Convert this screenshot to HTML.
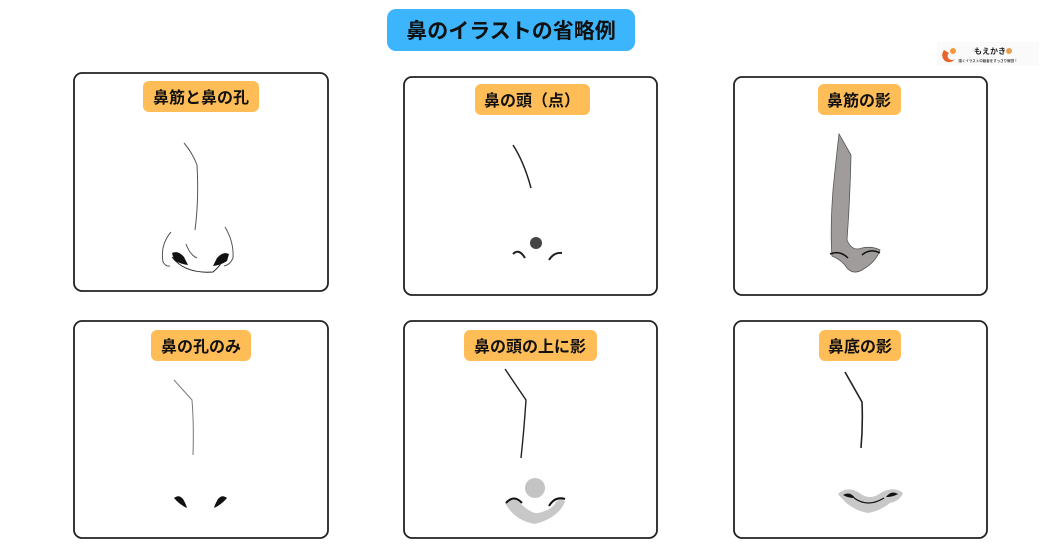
<!DOCTYPE html>
<html><head><meta charset="utf-8">
<style>
html,body{margin:0;padding:0;background:#fff;width:1042px;height:545px;overflow:hidden}
text{font-family:"Liberation Sans","Noto Sans CJK JP",sans-serif;font-weight:bold}
</style></head>
<body>
<svg width="1042" height="545" viewBox="0 0 1042 545" xmlns="http://www.w3.org/2000/svg">
<rect x="387" y="9" width="248" height="42" rx="9" fill="#3cb5fd"/>
<text x="511" y="38" font-size="21" text-anchor="middle" fill="#111">鼻のイラストの省略例</text>
<rect x="937" y="42" width="102" height="24" fill="#fafafa"/>
<path d="M944 50 q-4 6 1 11 q6 3 10 -2 q-3 2 -6 0 q-3 -3 0 -6 z" fill="#e8622a"/>
<circle cx="953" cy="51" r="3" fill="#f29a3a"/>
<text x="990" y="54" font-size="8" text-anchor="middle" fill="#222">もえかき</text>
<circle cx="1009" cy="51" r="3" fill="#e8a050"/>
<text x="988" y="62" font-size="3.5" text-anchor="middle" fill="#444">描くイラスト中級者をすっきり解説！</text>

<g fill="#fff" stroke="#222" stroke-width="1.8">
<rect x="74" y="73" width="254" height="218" rx="8"/>
<rect x="404" y="77" width="253" height="218" rx="8"/>
<rect x="734" y="77" width="253" height="218" rx="8"/>
<rect x="74" y="321" width="254" height="217" rx="8"/>
<rect x="404" y="321" width="253" height="217" rx="8"/>
<rect x="734" y="321" width="253" height="217" rx="8"/>
</g>
<g fill="#ffbd57">
<rect x="143" y="81" width="116" height="31" rx="6"/>
<rect x="475" y="84" width="115" height="31" rx="6"/>
<rect x="818" y="84" width="83" height="31" rx="6"/>
<rect x="151" y="330" width="100" height="31" rx="6"/>
<rect x="464" y="330" width="133" height="31" rx="6"/>
<rect x="819" y="330" width="82" height="31" rx="6"/>
</g>
<g font-size="16" fill="#111" text-anchor="middle">
<text x="201" y="103">鼻筋と鼻の孔</text>
<text x="532" y="106">鼻の頭（点）</text>
<text x="859" y="106">鼻筋の影</text>
<text x="201" y="352">鼻の孔のみ</text>
<text x="530" y="352">鼻の頭の上に影</text>
<text x="860" y="352">鼻底の影</text>
</g>

<!-- panel1 -->
<g fill="none" stroke="#555" stroke-width="1">
<path d="M184 143 Q192 152 197 165 Q199 200 195 230"/>
<path d="M171 232 Q160 245 163 262 Q166 267 170 266"/>
<path d="M225 227 Q234 242 233 258 Q230 265 224 266"/>
<path d="M186 244 Q190 255 197 258"/>
<path d="M172 257 Q185 274 213 272 Q218 268 222 262" stroke="#222"/>
</g>
<path d="M172 253 q6 -3 12 4 q3 6 4 8 q-8 -1 -14 -5 z" fill="#111"/>
<path d="M229 254 q-6 -3 -12 4 q-3 6 -4 8 q8 -1 14 -5 z" fill="#111"/>

<!-- panel2 -->
<path d="M513 145 Q524 162 531 188" fill="none" stroke="#222" stroke-width="1.5"/>
<circle cx="536" cy="243" r="6" fill="#444"/>
<path d="M513 254 q6 -6 12 4" fill="none" stroke="#222" stroke-width="2"/>
<path d="M549 260 q5 -8 13 -7" fill="none" stroke="#222" stroke-width="2"/>

<!-- panel3 -->
<path d="M839 134 L851 155 Q850 200 847 240 Q852 252 862 248 Q872 246 880 250 Q876 262 862 270 Q853 275 847 268 Q842 260 832 256 Q830 230 833 190 Q836 160 839 134 z" fill="#a09c9c" stroke="#555" stroke-width="0.8"/>
<path d="M830 254 Q840 250 848 258 M862 255 Q870 248 880 253" fill="none" stroke="#111" stroke-width="1.5"/>

<!-- panel4 -->
<path d="M174 380 Q183 390 192 400 Q194 425 193 455" fill="none" stroke="#777" stroke-width="1"/>
<path d="M174 498 q5 -4 9 1 q3 5 4 9 q-7 -3 -13 -10 z" fill="#111"/>
<path d="M227 498 q-5 -4 -9 1 q-3 5 -4 9 q7 -3 13 -10 z" fill="#111"/>

<!-- panel5 -->
<path d="M505 369 L526 400 Q524 430 521 458" fill="none" stroke="#222" stroke-width="1.4"/>
<circle cx="535" cy="488" r="10" fill="#c4c4c4"/>
<path d="M505 503 Q515 494 522 505 Q532 514 538 513 Q552 510 556 502 Q562 497 565 502 Q558 518 535 524 Q515 521 505 503 z" fill="#c8c8c8"/>
<path d="M506 503 Q514 494 522 503 M549 506 Q555 496 565 499" fill="none" stroke="#111" stroke-width="2"/>

<!-- panel6 -->
<path d="M845 372 L862 402 Q863 425 861 448" fill="none" stroke="#222" stroke-width="1.6"/>
<path d="M838 494 Q846 486 858 492 Q870 502 882 492 Q895 486 903 493 Q900 501 890 503 Q880 511 868 513 Q850 510 838 494 z" fill="#c8c8c8"/>
<path d="M843 495 q7 -4 12 3 q-7 0 -12 -3 z M898 494 q-7 -4 -12 3 q7 0 12 -3 z" fill="#111"/>
<path d="M854 498 Q868 508 884 498" fill="none" stroke="#111" stroke-width="1.2"/>
</svg>
</body></html>
